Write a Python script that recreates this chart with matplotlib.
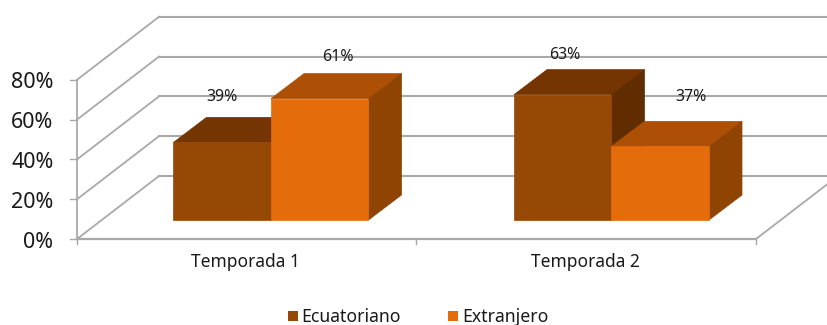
import matplotlib.pyplot as plt
from matplotlib.patches import Polygon, Rectangle

categories = ["Temporada 1", "Temporada 2"]
series_names = ["Ecuatoriano", "Extranjero"]
ecuatoriano = [39, 63]
extranjero = [61, 37]
y_ticks = [0, 20, 40, 60, 80]

GRID = "#a9a9a9"
TEXT = "#1a1a1a"
FONT = "Noto Sans"

# oblique box geometry, in pixels
FLOOR_Y = 239
BAR_BASE_Y = 220
PX_PER_PCT = 1.99
WALL_LEFT = 77
WALL_RIGHT = 756
WALL_DX, WALL_DY = 82, -63
BAR_DX, BAR_DY = 33, -25
BAR_WIDTH = 97.5
GROUP_LEFT = [173.5, 514]

# where each data label sits relative to its bar's front top centre
label_shift = [[(0, -45), (18, -42), ], [(2.5, -40), (31, -49)]]

series_colors = [
    {"front": "#964805", "top": "#743502", "side": "#612d00"},
    {"front": "#e46c0a", "top": "#ad5005", "side": "#8f4403"},
]

fig = plt.figure(figsize=(8.28, 3.25), dpi=100)
ax = fig.add_axes([0, 0, 1, 1])
ax.set_xlim(0, 828)
ax.set_ylim(325, 0)
ax.axis("off")


def wall_y(value):
    return FLOOR_Y - value * PX_PER_PCT


def draw_box(x0, value, colors):
    x1 = x0 + BAR_WIDTH
    top = BAR_BASE_Y - value * PX_PER_PCT
    faces = [
        ("top", [(x0, top), (x0 + BAR_DX, top + BAR_DY),
                 (x1 + BAR_DX, top + BAR_DY), (x1, top)]),
        ("side", [(x1, BAR_BASE_Y), (x1 + BAR_DX, BAR_BASE_Y + BAR_DY),
                  (x1 + BAR_DX, top + BAR_DY), (x1, top)]),
        ("front", [(x0, BAR_BASE_Y), (x1, BAR_BASE_Y), (x1, top), (x0, top)]),
    ]
    for name, points in faces:
        ax.add_patch(Polygon(points, closed=True, facecolor=colors[name],
                             edgecolor=colors[name], linewidth=0.5, zorder=3))


# walls and grid
for tick in y_ticks:
    y = wall_y(tick)
    ax.plot([WALL_LEFT, WALL_LEFT + WALL_DX], [y, y + WALL_DY], color=GRID, lw=1.3, zorder=1)
    ax.plot([WALL_LEFT + WALL_DX, 828], [y + WALL_DY, y + WALL_DY], color=GRID, lw=1.5, zorder=1)
    ax.plot([WALL_LEFT - 7, WALL_LEFT], [y, y], color=GRID, lw=1.0, zorder=1)
    ax.text(53.5, y + 3, f"{tick}%", ha="right", va="center", fontsize=15.5,
            color=TEXT, family=FONT)

ax.plot([WALL_LEFT, WALL_LEFT], [wall_y(y_ticks[-1]), FLOOR_Y], color=GRID, lw=1.3, zorder=1)
ax.plot([WALL_LEFT, WALL_RIGHT], [FLOOR_Y, FLOOR_Y], color=GRID, lw=1.6, zorder=1)
ax.plot([WALL_RIGHT, WALL_RIGHT + WALL_DX], [FLOOR_Y, FLOOR_Y + WALL_DY], color=GRID, lw=1.3, zorder=1)
for x in [WALL_LEFT, (WALL_LEFT + WALL_RIGHT) / 2, WALL_RIGHT]:
    ax.plot([x, x], [FLOOR_Y, FLOOR_Y + 5], color=GRID, lw=1.0, zorder=1)

# bars and labels
for i, left in enumerate(GROUP_LEFT):
    values = [ecuatoriano[i], extranjero[i]]
    for j, value in enumerate(values):
        x0 = left + j * BAR_WIDTH
        draw_box(x0, value, series_colors[j])
        dx, dy = label_shift[i][j]
        ax.text(x0 + BAR_WIDTH / 2 + dx, BAR_BASE_Y - value * PX_PER_PCT + dy,
                f"{value}%", ha="center", va="center", fontsize=11.5,
                color=TEXT, family=FONT, zorder=5)
    ax.text(left + BAR_WIDTH - 26, 262, categories[i], ha="center", va="center",
            fontsize=12.5, color=TEXT, family=FONT)

# legend
for x_box, x_text, name, colors in zip([288, 448], [301, 462], series_names, series_colors):
    ax.add_patch(Rectangle((x_box, 311), 10.5, 10, facecolor=colors["front"], edgecolor="none"))
    ax.text(x_text, 316.5, name, ha="left", va="center", fontsize=12.7, color=TEXT, family=FONT)

fig.savefig("out.png", dpi=100)
